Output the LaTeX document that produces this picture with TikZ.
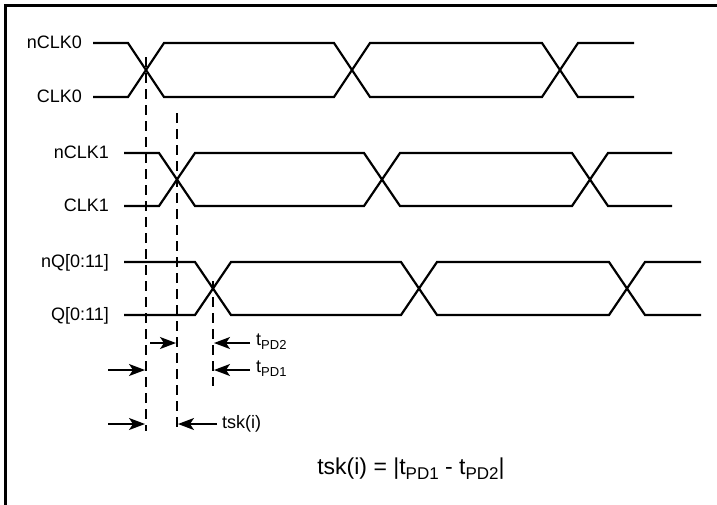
\documentclass[tikz,border=0pt]{standalone}
\usepackage{fontspec}
\setmainfont{Liberation Sans}
\usetikzlibrary{arrows.meta}
\newcommand\fs[1]{\fontsize{#1}{#1}\selectfont}
\newcommand\sbx[2]{\raisebox{-0.25em}{\fs{#1}#2}}
% waveform pair: xs, c1, c2, c3, xe, yhigh, ylow
\newcommand\wavepair[7]{%
  \draw[wave] (#1,#6) -- (#2-18,#6) -- (#2+18,#7) -- (#3-18,#7) -- (#3+18,#6) -- (#4-18,#6) -- (#4+18,#7) -- (#5,#7);
  \draw[wave] (#1,#7) -- (#2-18,#7) -- (#2+18,#6) -- (#3-18,#6) -- (#3+18,#7) -- (#4-18,#7) -- (#4+18,#6) -- (#5,#6);
}
\begin{document}
\begin{tikzpicture}[x=1pt,y=-1pt,
  wave/.style={line width=2.2pt, line join=miter},
  guide/.style={line width=1.4pt, dash pattern=on 10pt off 6pt},
  meas/.style={line width=1.5pt, -{Stealth[length=16pt,width=12pt,inset=4pt]}},
  sig/.style={anchor=base east, font=\fs{18}, inner sep=0pt},
  lbl/.style={anchor=base west, font=\fs{18}, inner sep=0pt}]
\useasboundingbox (0,0) rectangle (717,504);
\draw[line width=3pt] (5.5,5.5) rectangle (740,530);

% signal names
\node[sig] (nclk0) at (82,48) {nCLK0};
\node[sig] (clk0) at (82,102) {CLK0};
\node[sig] (nclk1) at (109,158) {nCLK1};
\node[sig] (clk1) at (109,211) {CLK1};
\node[sig] (nq) at (109,267) {nQ[0:11]};
\node[sig] (q) at (109,320) {Q[0:11]};

% waveforms
\wavepair{93}{146}{352}{560}{634}{43}{97}
\wavepair{124}{177}{382}{590}{672}{153}{206}
\wavepair{124}{213}{419}{627}{701}{262}{315}

% guide lines
\coordinate (g1t) at (146,57);  \coordinate (g1b) at (146,431);
\coordinate (g2t) at (177,113); \coordinate (g2b) at (177,431);
\coordinate (g3t) at (213,281); \coordinate (g3b) at (213,386);
\draw[guide] (g1t) -- (g1b);
\draw[guide] (g2t) -- (g2b);
\draw[guide] (g3t) -- (g3b);

% measurement arrows
\coordinate (a2s) at (150,343); \coordinate (a2e) at (176,343);
\coordinate (b2s) at (250,343); \coordinate (b2e) at (214,343);
\coordinate (a1s) at (108,370); \coordinate (a1e) at (145,370);
\coordinate (b1s) at (250,370); \coordinate (b1e) at (214,370);
\coordinate (a3s) at (108,424); \coordinate (a3e) at (145,424);
\coordinate (b3s) at (217,424); \coordinate (b3e) at (178,424);
\draw[meas] (a2s) -- (a2e);
\draw[meas] (b2s) -- (b2e);
\draw[meas] (a1s) -- (a1e);
\draw[meas] (b1s) -- (b1e);
\draw[meas] (a3s) -- (a3e);
\draw[meas] (b3s) -- (b3e);

\node[lbl] (tpd2) at (256,345) {t\sbx{13}{PD2}};
\node[lbl] (tpd1) at (256,372) {t\sbx{13}{PD1}};
\node[lbl] (tsk) at (222,428) {tsk(i)};

\node[anchor=base, inner sep=0pt] (eq) at (411,474) {\fs{23}tsk(i) = |t\sbx{17}{PD1} - t\sbx{17}{PD2}|};
\end{tikzpicture}
\end{document}
